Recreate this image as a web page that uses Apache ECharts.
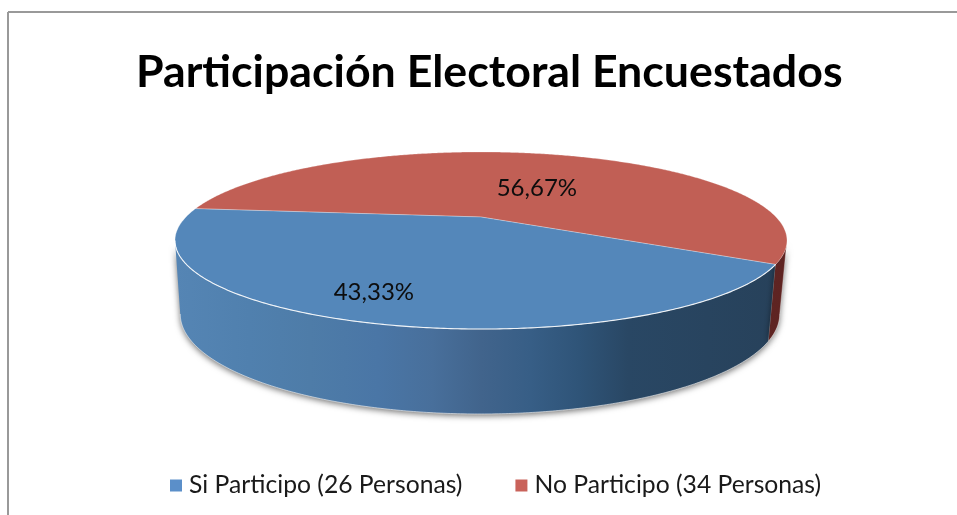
<!DOCTYPE html>
<html>
<head>
<meta charset="utf-8">
<style>html,body{margin:0;padding:0;background:#fff}#c{width:957px;height:515px}</style>
<script src="https://cdn.jsdelivr.net/npm/echarts@6/dist/echarts.min.js"></script>
</head>
<body>
<div id="c"></div>
<script>
var chartTitle = 'Participación Electoral Encuestados';
var categories = ['Si Participo (26 Personas)', 'No Participo (34 Personas)'];
var values = [26, 34];
var topColors = ['#5487ba', '#c15f55'];
var legendColors = ['#5b8fc9', '#c9625a'];

// Perspective view of the pie
var persp = 0.2655, startDeg = 30;
var topDisk = {x0: 481, y0: 217, a: 295, b: 82.3};
var baseDisk = {x0: 480, y0: 287.5, a: 289, b: 92.9};
var labelPlace = [{r: 0.77, dx: -20, dy: 0}, {r: 0.41, dx: 22, dy: 0}];

var total = values.reduce(function (s, v) { return s + v; }, 0);
function rangeOf(i) {
  var before = 0;
  for (var k = 0; k < i; k++) before += values[k];
  return [startDeg + before / total * 360, startDeg + (before + values[i]) / total * 360];
}
function project(d, deg, r) {
  var t = deg * Math.PI / 180, u = r * Math.cos(t), v = r * Math.sin(t), w = 1 - persp * v;
  return [d.x0 + d.a * u / w, d.y0 + d.b * v / w];
}
function arc(d, from, to) {
  var pts = [], n = Math.max(2, Math.ceil(Math.abs(to - from) * 2));
  for (var i = 0; i <= n; i++) pts.push(project(d, from + (to - from) * i / n, 1));
  return pts;
}
var silhouette = Math.asin(persp) * 180 / Math.PI;

var wallStops = [
  [[0, '#5585b4'], [0.12, '#5080ae'], [0.22, '#4e7ca8'], [0.33, '#4a76a6'], [0.42, '#486f9b'],
   [0.5, '#41648c'], [0.58, '#375e86'], [0.66, '#2f5478'], [0.74, '#294764'], [1, '#27415a']],
  [[0, '#6f2b28'], [1, '#5e2422']]
];

function renderWall(params) {
  var i = params.dataIndex, rg = rangeOf(i);
  // walls exist only on the near half, between the silhouette angles
  var segs = [[rg[0], rg[1]], [rg[0] - 360, rg[1] - 360]];
  var kids = [];
  segs.forEach(function (s) {
    var a = Math.max(s[0], silhouette), b = Math.min(s[1], 180 - silhouette);
    if (b <= a) return;
    var pts = arc(topDisk, a, b).concat(arc(baseDisk, b, a));
    kids.push({
      type: 'polygon',
      shape: {points: pts},
      style: {
        fill: {type: 'linear', x: 176, y: 0, x2: 787, y2: 0, global: true,
          colorStops: wallStops[i].map(function (c) { return {offset: c[0], color: c[1]}; })},
        shadowBlur: 6, shadowColor: 'rgba(0,0,0,0.55)', shadowOffsetY: 2
      }
    });
    kids.push({
      type: 'polyline',
      shape: {points: arc(baseDisk, a, b)},
      style: {fill: null, stroke: 'rgba(255,255,255,0.55)', lineWidth: 1}
    });
    kids.push({
      type: 'line',
      shape: (function () {
        var p = project(topDisk, a, 1), q = project(baseDisk, a, 1);
        return {x1: p[0], y1: p[1], x2: q[0], y2: q[1]};
      })(),
      style: {stroke: 'rgba(255,255,255,0.35)', lineWidth: 1}
    });
  });
  return {type: 'group', children: kids};
}

function renderTop(i) {
  return function () {
    var rg = rangeOf(i);
    var pts = [[topDisk.x0, topDisk.y0]].concat(arc(topDisk, rg[0], rg[1]));
    var mid = (rg[0] + rg[1]) / 2, lp = project(topDisk, mid, labelPlace[i].r);
    var kids = [{
      type: 'polygon',
      shape: {points: pts},
      style: {fill: topColors[i], stroke: 'rgba(255,255,255,0.35)', lineWidth: 0.8}
    }];
    var a = Math.max(rg[0], silhouette), b = Math.min(rg[1], 180 - silhouette);
    if (b > a) {
      kids.push({
        type: 'polyline',
        shape: {points: arc(topDisk, a, b)},
        style: {fill: null, stroke: 'rgba(255,255,255,0.85)', lineWidth: 1.1}
      });
    }
    kids.push({
      type: 'text',
      style: {
        x: lp[0] + labelPlace[i].dx, y: lp[1] + labelPlace[i].dy,
        text: (values[i] / total * 100).toFixed(2).replace('.', ',') + '%',
        fill: '#0d0d0d', font: '24px Lato', align: 'center', verticalAlign: 'middle'
      }
    });
    return {type: 'group', children: kids};
  };
}

var chart = echarts.init(document.getElementById('c'), null, {renderer: 'canvas'});
chart.setOption({
  animation: false,
  backgroundColor: '#fff',
  title: {
    text: chartTitle, left: 131, top: 45,
    textStyle: {fontFamily: 'Lato', fontWeight: 'bold', fontSize: 44.7, color: '#000'}
  },
  legend: {
    data: categories, left: 165, top: 468, itemWidth: 12, itemHeight: 12, itemGap: 53,
    icon: 'rect', selectedMode: false,
    textStyle: {fontFamily: 'Lato', fontSize: 24.7, color: '#1a1a1a', padding: [0, 0, 0, 2]}
  },
  graphic: [
    {type: 'line', silent: true, shape: {x1: 8, y1: 12, x2: 957, y2: 12}, style: {stroke: '#999', lineWidth: 2}},
    {type: 'line', silent: true, shape: {x1: 8, y1: 12, x2: 8, y2: 515}, style: {stroke: '#999', lineWidth: 2}}
  ],
  series: [
    {type: 'custom', name: 'walls', coordinateSystem: 'none', silent: true,
     data: values.slice(), renderItem: renderWall, clip: false},
    {type: 'custom', name: categories[1], coordinateSystem: 'none', silent: true,
     itemStyle: {color: legendColors[1]}, data: [values[1]], renderItem: renderTop(1)},
    {type: 'custom', name: categories[0], coordinateSystem: 'none', silent: true,
     itemStyle: {color: legendColors[0]}, data: [values[0]], renderItem: renderTop(0)}
  ]
});
</script>
</body>
</html>
